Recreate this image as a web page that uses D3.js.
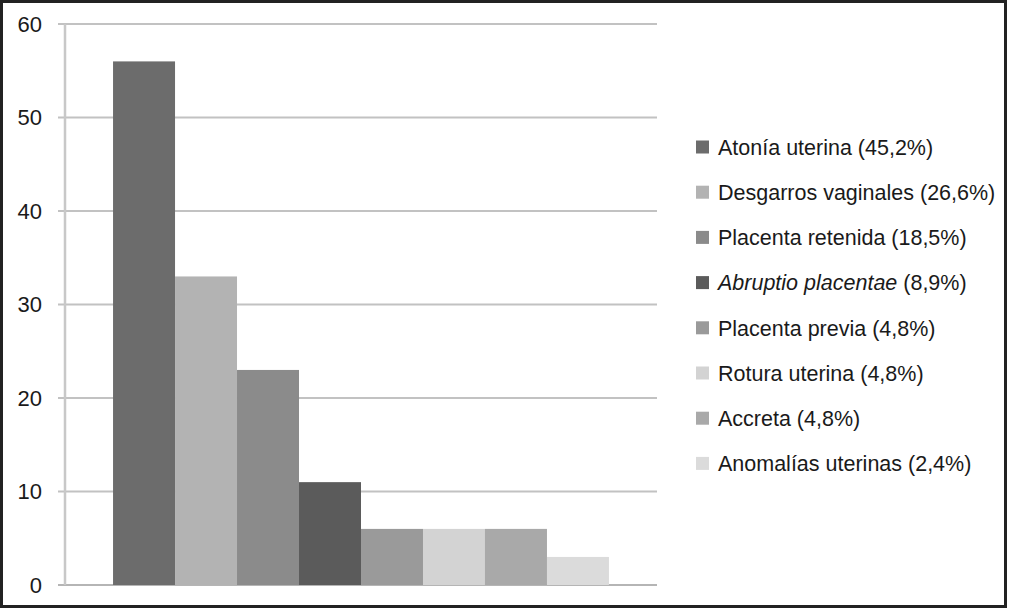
<!DOCTYPE html>
<html>
<head>
<meta charset="utf-8">
<script src="https://cdn.jsdelivr.net/npm/d3@7"></script>
<style>
  body { margin: 0; background: #fff; }
  svg { display: block; font-family: "Liberation Sans", Arial, sans-serif; }
</style>
</head>
<body>
<div class="chart"></div>
<script>
var width = 1010,
    height = 610;

// data
var causes = ["Atonía uterina", "Desgarros vaginales", "Placenta retenida", "Abruptio placentae",
              "Placenta previa", "Rotura uterina", "Accreta", "Anomalías uterinas"];
var percents = ["45,2%", "26,6%", "18,5%", "8,9%", "4,8%", "4,8%", "4,8%", "2,4%"];
var counts = [56, 33, 23, 11, 6, 6, 6, 3];
var yTicks = [0, 10, 20, 30, 40, 50, 60];
var colors = ["#6c6c6c", "#b3b3b3", "#8b8b8b", "#5b5b5b", "#9a9a9a", "#d3d3d3", "#a9a9a9", "#dbdbdb"];

var plot = {left: 65, right: 657, top: 24, bottom: 585};

var svg = d3.select(".chart").append("svg")
    .attr("width", width)
    .attr("height", height);

// frame
svg.append("rect")
    .attr("x", 1.5).attr("y", 1.5)
    .attr("width", 1004).attr("height", 605)
    .attr("fill", "#fff")
    .attr("stroke", "#222")
    .attr("stroke-width", 3);

var y = d3.scaleLinear()
    .domain([0, 60])
    .range([plot.bottom, plot.top]);

// one category, bars for each cause side by side
var x = d3.scaleBand()
    .domain(causes)
    .range([plot.left, plot.right])
    .paddingInner(0)
    .paddingOuter(0.775);

// gridlines
svg.append("g").selectAll("line")
    .data(yTicks)
  .join("line")
    .attr("x1", plot.left - 7)
    .attr("x2", plot.right)
    .attr("y1", d => y(d))
    .attr("y2", d => y(d))
    .attr("stroke", d => d === 0 ? "#b5b5b5" : "#c2c2c2")
    .attr("stroke-width", 2);

// y axis line
svg.append("line")
    .attr("x1", plot.left).attr("x2", plot.left)
    .attr("y1", plot.top).attr("y2", plot.bottom)
    .attr("stroke", "#c8c8c8")
    .attr("stroke-width", 2.5);

// tick labels
svg.append("g").selectAll("text")
    .data(yTicks)
  .join("text")
    .attr("x", 42)
    .attr("y", d => y(d))
    .attr("dy", "0.36em")
    .attr("text-anchor", "end")
    .attr("font-size", 22)
    .attr("fill", "#1a1a1a")
    .text(d => d);

// bars
svg.append("g").selectAll("rect")
    .data(counts)
  .join("rect")
    .attr("x", (d, i) => x(causes[i]))
    .attr("width", x.bandwidth())
    .attr("y", d => y(d))
    .attr("height", d => y(0) - y(d))
    .attr("fill", (d, i) => colors[i]);

// legend
var legend = svg.append("g").selectAll("g")
    .data(causes)
  .join("g")
    .attr("transform", (d, i) => "translate(696," + (147 + i * 45.2) + ")");

legend.append("rect")
    .attr("x", 0).attr("y", -6.5)
    .attr("width", 13).attr("height", 13)
    .attr("fill", (d, i) => colors[i]);

var lt = legend.append("text")
    .attr("x", 22)
    .attr("dy", "0.36em")
    .attr("font-size", 21.5)
    .attr("fill", "#1a1a1a");

lt.append("tspan")
    .attr("font-style", (d, i) => i === 3 ? "italic" : null)
    .text(d => d);
lt.append("tspan")
    .text((d, i) => " (" + percents[i] + ")");
</script>
</body>
</html>
